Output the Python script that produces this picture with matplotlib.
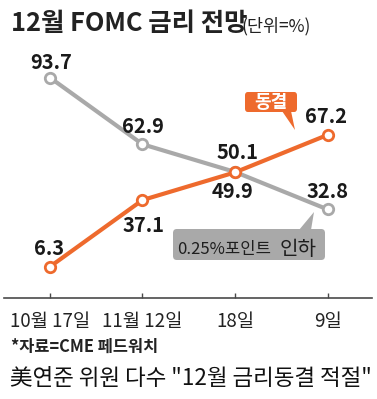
import matplotlib
matplotlib.use("Agg")
import matplotlib.pyplot as plt
from matplotlib.patches import FancyBboxPatch, Polygon

plt.rcParams["font.family"] = ["Noto Sans CJK KR", "DejaVu Sans"]

# data
dates = ["10월 17일", "11월 12일", "18일", "9일"]
cut = [93.7, 62.9, 50.1, 32.8]      # 0.25%포인트 인하
hold = [6.3, 37.1, 49.9, 67.2]      # 동결

GRAY = "#a9a9a9"
ORANGE = "#ee6a2d"
W, H = 377, 399


def px(x, y):
    # pixel (from top-left) -> figure fraction
    return x / W, 1 - y / H


fig = plt.figure(figsize=(W / 100, H / 100), dpi=100)
fig.patch.set_facecolor("white")

ax = fig.add_axes([4 / W, (H - 298) / H, 368 / W, 258 / H])
ax.set_xlim(-0.497, 3.481)
ax.set_ylim(-8.18, 111.1)
ax.patch.set_alpha(0)

xs = range(len(dates))
ax.plot(xs, cut, color=GRAY, lw=3, marker="o", ms=7.5, mfc="white",
        mec=GRAY, mew=2, zorder=3)
ax.plot(xs, hold, color=ORANGE, lw=3, marker="o", ms=7.5, mfc="white",
        mec=ORANGE, mew=2, zorder=4)

# value labels, offsets in pixels
cut_off = [(1, 15), (0, 18), (3, 19), (0, 18)]
hold_off = [(-1, 18), (1, -25), (-2, -19), (-2, 18)]
for i, v in enumerate(cut):
    ax.annotate(f"{v}", (i, v), xytext=cut_off[i], textcoords="offset pixels",
                ha="center", va="center", fontsize=14.5, fontweight="bold",
                color="#1a1a1a", zorder=6)
for i, v in enumerate(hold):
    ax.annotate(f"{v}", (i, v), xytext=hold_off[i], textcoords="offset pixels",
                ha="center", va="center", fontsize=14.5, fontweight="bold",
                color="#1a1a1a", zorder=6)

for s in ["top", "left", "right"]:
    ax.spines[s].set_visible(False)
ax.spines["bottom"].set_color("#4a4a4a")
ax.spines["bottom"].set_linewidth(1.2)
ax.set_yticks([])
ax.set_xticks(list(xs))
ax.set_xticklabels(dates, fontsize=13.5, color="#222222")
ax.tick_params(axis="x", direction="in", length=3.5, width=1,
               color="#4a4a4a", pad=9)

# callout boxes
x0, y0 = px(245, 112)
x1, y1 = px(297, 92)
fig.patches.append(FancyBboxPatch((x0, y0), x1 - x0, y1 - y0,
                                  boxstyle="round,pad=0,rounding_size=0.008",
                                  transform=fig.transFigure, fc=ORANGE, ec="none"))
fig.patches.append(Polygon([px(282, 111), px(291, 111), px(295, 130)],
                           closed=True, transform=fig.transFigure,
                           fc=ORANGE, ec="none"))
fig.text(*px(271, 102.5), "동결", ha="center", va="center", fontsize=13,
         fontweight="bold", color="white")

x0, y0 = px(173, 260)
x1, y1 = px(325, 229)
fig.patches.append(FancyBboxPatch((x0, y0), x1 - x0, y1 - y0,
                                  boxstyle="round,pad=0,rounding_size=0.01",
                                  transform=fig.transFigure, fc=GRAY, ec="none"))
fig.patches.append(Polygon([px(299, 230), px(311, 230), px(314, 212)],
                           closed=True, transform=fig.transFigure,
                           fc=GRAY, ec="none"))
fig.text(*px(177, 254), "0.25%포인트", ha="left", va="baseline", fontsize=12,
         color="#1e1e1e")
fig.text(*px(280, 255), "인하", ha="left", va="baseline", fontsize=14.5,
         color="#1e1e1e")

# titles and notes
fig.text(*px(11, 31), "12월 FOMC 금리 전망", ha="left", va="baseline",
         fontsize=18.3, fontweight="bold", color="#222222")
fig.text(*px(241, 31), "(단위=%)", ha="left", va="baseline", fontsize=12.5,
         color="#222222")
fig.text(*px(11, 352), "*자료=CME 페드워치", ha="left", va="baseline",
         fontsize=11.8, fontweight="bold", color="#222222")
fig.text(*px(10, 385), "美연준 위원 다수 \"12월 금리동결 적절\"", ha="left",
         va="baseline", fontsize=16.2, color="#111111")

fig.savefig("out.png", dpi=100)
